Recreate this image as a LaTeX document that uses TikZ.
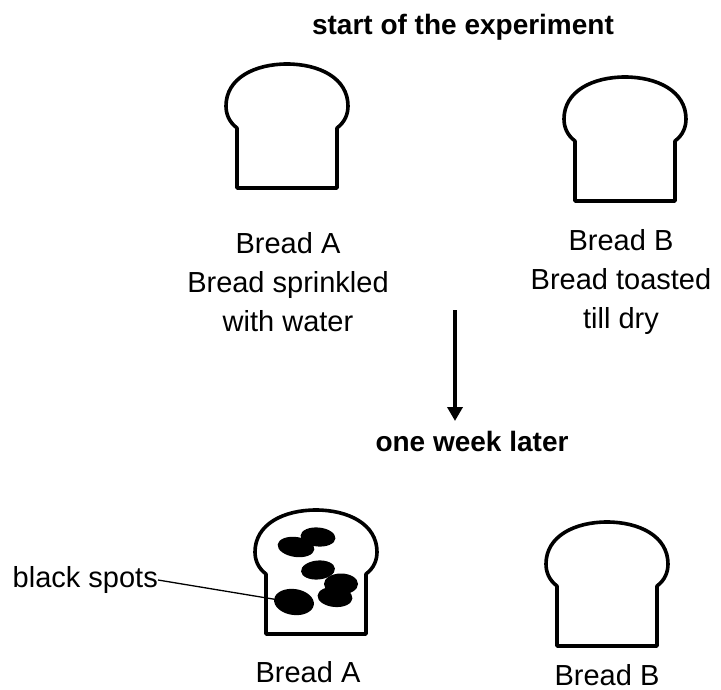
\documentclass[tikz,border=0pt]{standalone}
\usepackage{fontspec}
\setmainfont{Liberation Sans}
\usetikzlibrary{arrows.meta,shapes.geometric}

\tikzset{
  breadline/.style={line width=3.6pt, line join=round, black},
  bread/.pic={
    \draw[breadline] (-50,124) -- (-50,64)
      .. controls (-58,58) and (-61,50) .. (-61,42)
      .. controls (-61,14) and (-32,0) .. (0,0)
      .. controls (32,0) and (61,14) .. (61,42)
      .. controls (61,50) and (58,58) .. (50,64)
      -- (50,124) -- cycle;
  },
  spot/.style={ellipse, fill=black, inner sep=0pt},
  label/.style={font=\fontsize{29}{39}\selectfont, align=center, inner sep=0pt},
  heading/.style={font=\fontsize{28}{34}\selectfont\bfseries, inner sep=0pt},
}

\begin{document}
\begin{tikzpicture}[x=1pt, y=-1pt]
  \useasboundingbox (0,0) rectangle (721,690);

  % start of the experiment
  \node[heading] (title) at (463,27) {start of the experiment};

  \pic at (287,64) {bread};
  \pic at (625,77) {bread};

  \node[label] (textA) at (288,282) {Bread A\\Bread sprinkled\\with water};
  \node[label] (textB) at (621,282) {Bread B\\Bread toasted\\till dry};

  % passage of time
  \coordinate (arrtop) at (455,310);
  \coordinate (arrbot) at (455,421);
  \draw[line width=4pt, -{Triangle[width=15pt,length=14pt]}] (arrtop) -- (arrbot);

  \node[heading] (later) at (472,441) {one week later};

  % one week later
  \pic at (316,510) {bread};
  \pic at (607,522) {bread};

  % mould on bread A
  \node[spot, minimum width=37pt, minimum height=20pt, rotate=-8] (s1) at (296,547) {};
  \node[spot, minimum width=35pt, minimum height=19pt, rotate=-5] (s2) at (318,537) {};
  \node[spot, minimum width=34pt, minimum height=19pt, rotate=5] (s3) at (318,570) {};
  \node[spot, minimum width=34pt, minimum height=21pt] (s4) at (341,584) {};
  \node[spot, minimum width=35pt, minimum height=20pt, rotate=-5] (s5) at (335,597) {};
  \node[spot, minimum width=40pt, minimum height=26pt, rotate=-8] (s6) at (294,602) {};

  \node[label, anchor=east] (spots) at (158,580) {black spots};
  \draw[line width=1.3pt] (spots.east) -- (s6.west);

  \node[label] (bottomA) at (308,672) {Bread A};
  \node[label] (bottomB) at (607,675) {Bread B};
\end{tikzpicture}
\end{document}
